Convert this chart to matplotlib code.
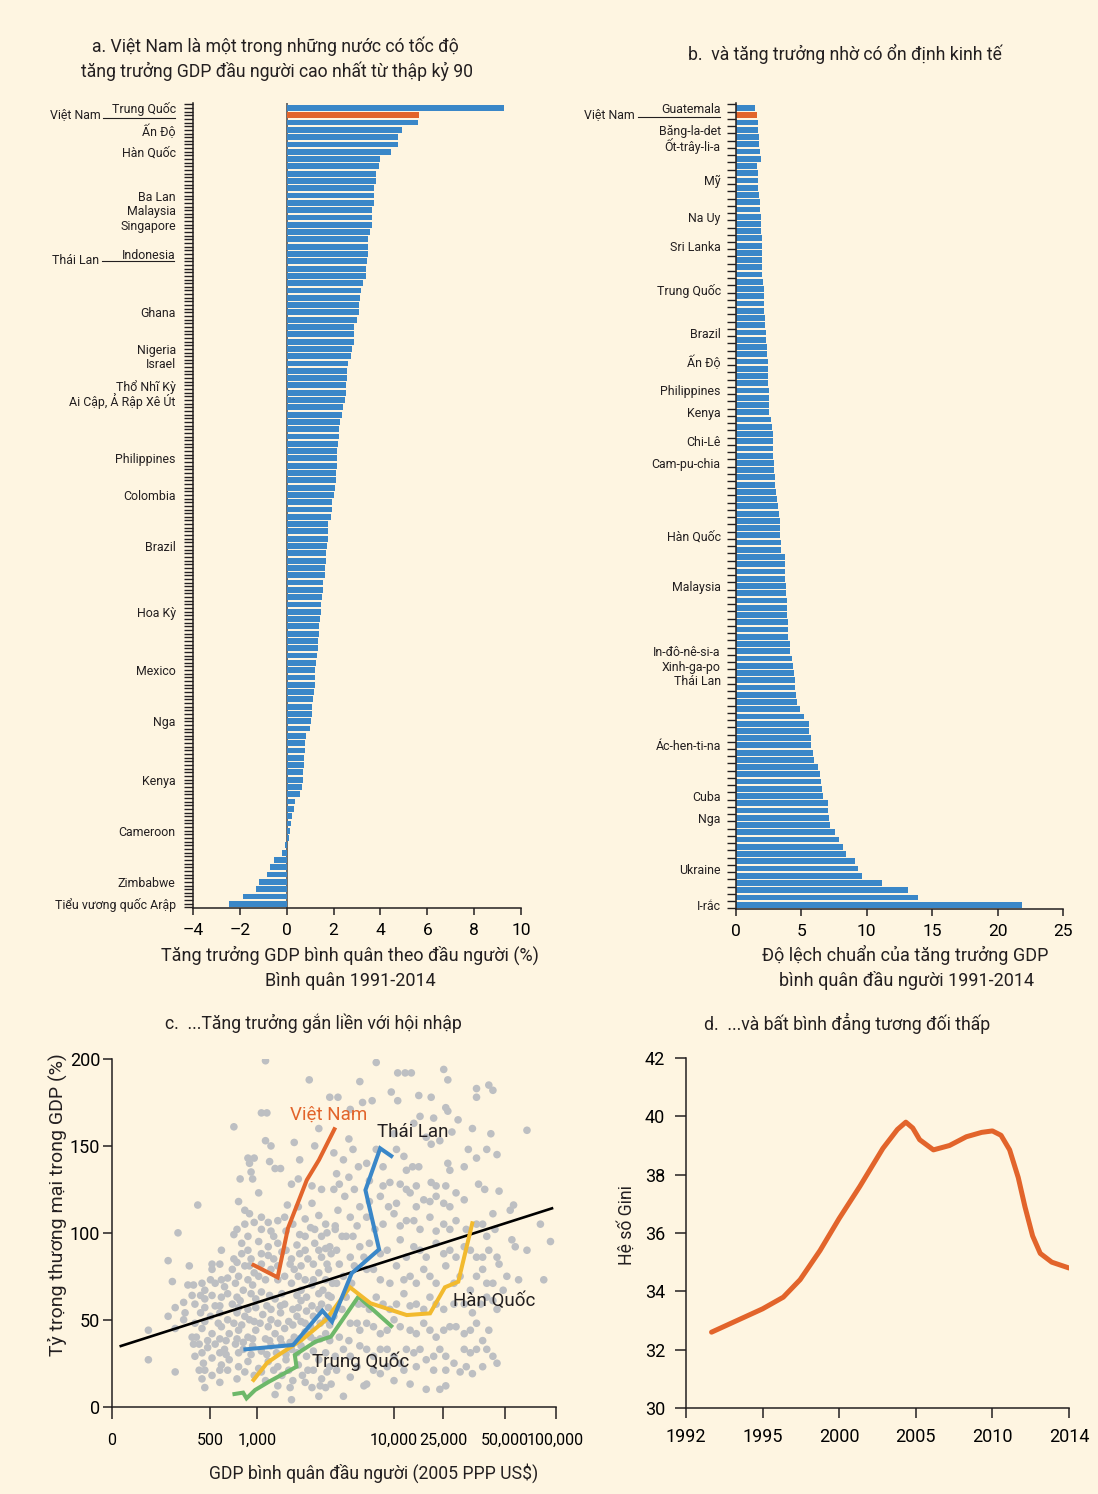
import numpy as np
import matplotlib
matplotlib.use('Agg')
import matplotlib.pyplot as plt
from matplotlib.lines import Line2D

plt.rcParams['font.family'] = ['Roboto', 'DejaVu Sans']

# ---------------- DATA ----------------
# Panel a: GDP per capita growth 1991-2014 (%), sorted
a_vals = [9.27, 5.63, 5.59, 4.94, 4.77, 4.73, 4.43, 4.00, 3.96, 3.83, 3.83, 3.74, 3.74, 3.74,
          3.66, 3.66, 3.66, 3.57, 3.49, 3.49, 3.49, 3.44, 3.40, 3.40, 3.27, 3.19, 3.14, 3.10,
          3.10, 3.01, 2.89, 2.89, 2.89, 2.80, 2.76, 2.63, 2.59, 2.59, 2.54, 2.54, 2.50, 2.41,
          2.37, 2.29, 2.24, 2.24, 2.20, 2.16, 2.16, 2.16, 2.11, 2.11, 2.07, 2.03, 1.94, 1.94,
          1.90, 1.77, 1.77, 1.77, 1.73, 1.69, 1.69, 1.64, 1.64, 1.56, 1.56, 1.51, 1.47, 1.47,
          1.43, 1.39, 1.39, 1.34, 1.34, 1.30, 1.26, 1.21, 1.21, 1.21, 1.17, 1.13, 1.09, 1.09,
          1.04, 1.00, 0.83, 0.79, 0.79, 0.74, 0.74, 0.70, 0.70, 0.66, 0.57, 0.36, 0.31, 0.23,
          0.19, 0.14, 0.10, -0.07, -0.20, -0.54, -0.71, -0.84, -1.19, -1.31, -1.87, -2.47]
a_highlight = 1
a_labels = {0: 'Trung Quốc', 3: 'Ấn Độ', 6: 'Hàn Quốc', 12: 'Ba Lan', 14: 'Malaysia',
            16: 'Singapore', 20: 'Indonesia', 28: 'Ghana', 33: 'Nigeria', 35: 'Israel',
            38: 'Thổ Nhĩ Kỳ', 40: 'Ai Cập, Ả Rập Xê Út', 48: 'Philippines', 53: 'Colombia',
            60: 'Brazil', 69: 'Hoa Kỳ', 77: 'Mexico', 84: 'Nga', 92: 'Kenya', 99: 'Cameroon',
            106: 'Zimbabwe', 109: 'Tiểu vương quốc Arập'}
a_xticks = [-4, -2, 0, 2, 4, 6, 8, 10]

# Panel b: standard deviation of GDP per capita growth 1991-2014, sorted
b_vals = [1.45, 1.61, 1.68, 1.68, 1.76, 1.76, 1.83, 1.91, 1.61, 1.68, 1.68, 1.68, 1.76, 1.83,
          1.83, 1.91, 1.91, 1.91, 1.99, 1.99, 1.99, 1.99, 1.99, 1.99, 2.06, 2.14, 2.14, 2.14,
          2.14, 2.22, 2.22, 2.29, 2.29, 2.37, 2.37, 2.45, 2.45, 2.45, 2.45, 2.52, 2.52, 2.52,
          2.52, 2.68, 2.75, 2.83, 2.83, 2.83, 2.83, 2.91, 2.91, 2.98, 2.98, 3.06, 3.13, 3.21,
          3.29, 3.36, 3.36, 3.36, 3.44, 3.44, 3.75, 3.75, 3.75, 3.75, 3.82, 3.82, 3.90, 3.90,
          3.90, 3.98, 3.98, 3.98, 4.13, 4.13, 4.28, 4.36, 4.43, 4.51, 4.51, 4.59, 4.66, 4.89,
          5.20, 5.58, 5.58, 5.73, 5.73, 5.89, 5.96, 6.27, 6.42, 6.50, 6.57, 6.65, 7.03, 7.03,
          7.11, 7.19, 7.57, 7.87, 8.18, 8.41, 9.10, 9.33, 9.63, 11.16, 13.15, 13.91, 21.87]
b_highlight = 1
b_labels = {0: 'Guatemala', 3: 'Băng-la-det', 5: 'Ốt-trây-li-a', 10: 'Mỹ', 15: 'Na Uy',
            19: 'Sri Lanka', 25: 'Trung Quốc', 31: 'Brazil', 35: 'Ấn Độ', 39: 'Philippines',
            42: 'Kenya', 46: 'Chi-Lê', 49: 'Cam-pu-chia', 59: 'Hàn Quốc', 66: 'Malaysia',
            75: 'In-đô-nê-si-a', 77: 'Xinh-ga-po', 79: 'Thái Lan', 88: 'Ác-hen-ti-na',
            95: 'Cuba', 98: 'Nga', 105: 'Ukraine', 110: 'I-rắc'}
b_xticks = [0, 5, 10, 15, 20, 25]

# Panel c: trade share vs GDP per capita, points as (log10 GDP, trade % of GDP)
scatter_pts = [
    (3.06, 199), (3.38, 188), (3.03, 169), (3.07, 169), (2.85, 161), (3.45, 160), (3.27, 152),
    (3.06, 153), (3.10, 150), (3.42, 150), (2.94, 143), (2.98, 143), (2.95, 140), (3.31, 142),
    (3.09, 141), (3.13, 137), (3.17, 137), (2.96, 135), (2.89, 131), (2.97, 131), (3.30, 131),
    (3.25, 128), (3.01, 123), (3.40, 127), (3.47, 125), (2.61, 116), (2.88, 118), (3.22, 116),
    (3.40, 117), (2.92, 113), (2.95, 111), (3.30, 115), (3.45, 110), (3.35, 108), (3.50, 105),
    (2.98, 106), (3.08, 106), (3.15, 107), (2.92, 105), (2.47, 100), (2.85, 99), (2.87, 102),
    (3.03, 102), (3.10, 101), (3.31, 99), (3.35, 98), (3.42, 102), (3.51, 100), (2.40, 84),
    (2.71, 82), (2.43, 72), (2.54, 70), (2.58, 70), (2.51, 60), (2.45, 57), (2.40, 52),
    (2.51, 50), (2.45, 45), (2.26, 44), (2.26, 27), (2.45, 20), (2.64, 16), (2.76, 14),
    (2.66, 11), (3.15, 12), (3.24, 11), (3.35, 14), (3.40, 11), (3.46, 12), (3.50, 11),
    (3.01, 95), (3.08, 92), (3.15, 94), (3.21, 90), (3.29, 93), (3.35, 90), (3.42, 94),
    (3.50, 91), (3.54, 88), (2.90, 88), (2.96, 85), (2.85, 85), (3.03, 88), (3.12, 85),
    (3.25, 85), (3.37, 85), (3.47, 86),
    (2.71, 79), (2.77, 73), (2.84, 79), (2.88, 75), (2.92, 81), (2.98, 77), (3.06, 73),
    (3.10, 79), (3.20, 75), (3.27, 79), (3.35, 73), (3.45, 77), (3.52, 79), (2.66, 67),
    (2.73, 71), (2.79, 69), (2.86, 71), (2.91, 67), (2.97, 70), (3.03, 66), (3.25, 71),
    (3.32, 67), (3.40, 70), (3.48, 67), (3.55, 71),
    (2.59, 59), (2.66, 62), (2.73, 58), (2.77, 63), (2.84, 59), (2.89, 61), (2.94, 56),
    (2.99, 62), (3.07, 58), (3.13, 62), (3.20, 59), (3.26, 56), (3.32, 61), (3.40, 58),
    (3.47, 59), (3.54, 63), (2.63, 54), (2.70, 52), (2.76, 54), (2.81, 50), (2.87, 54),
    (2.92, 52), (2.98, 49), (3.04, 53), (3.10, 50), (3.17, 54), (3.23, 49), (3.29, 52),
    (3.35, 48), (3.41, 52), (3.50, 50),
    (2.57, 40), (2.64, 45), (2.71, 42), (2.77, 46), (2.82, 42), (2.88, 44), (2.94, 40),
    (2.99, 44), (3.06, 39), (3.13, 42), (3.20, 45), (3.27, 40), (3.35, 43), (3.42, 38),
    (3.50, 42), (2.62, 36), (2.68, 34), (2.73, 36), (2.79, 33), (2.86, 36), (2.91, 33),
    (2.97, 35), (3.03, 32), (3.10, 35), (3.18, 36), (3.25, 33), (3.32, 35), (3.41, 32),
    (2.59, 29), (2.65, 25), (2.71, 28), (2.77, 24), (2.82, 27), (2.88, 23), (2.94, 26),
    (3.01, 22), (3.08, 26), (3.15, 23), (3.21, 27), (3.30, 24), (3.37, 21), (3.45, 27),
    (3.53, 23), (2.62, 21), (2.71, 18), (2.81, 21), (2.87, 16), (2.98, 18), (3.06, 15),
    (3.18, 18), (3.26, 15), (3.47, 16), (3.54, 13), (3.13, 7), (3.25, 4), (3.45, 6),
    (2.76, 82), (2.87, 83), (2.95, 81), (3.03, 82), (3.15, 81), (3.24, 82), (3.32, 81),
    (3.41, 82), (3.51, 82), (2.70, 73), (2.81, 74), (2.94, 73), (3.01, 75), (3.15, 73),
    (3.30, 75), (3.41, 73), (3.50, 73), (2.63, 64), (2.71, 64), (2.81, 65), (2.87, 63),
    (2.96, 65), (3.09, 64), (3.18, 65), (3.29, 64), (3.36, 63), (3.45, 65), (3.52, 64),
    (2.66, 57), (2.76, 58), (2.88, 57), (2.99, 57), (3.10, 56), (3.17, 58), (3.30, 57),
    (3.36, 55), (3.45, 56), (3.52, 57), (2.59, 48), (2.66, 49), (2.75, 48), (2.85, 48),
    (2.90, 47), (2.95, 50), (3.02, 48), (3.08, 46), (3.15, 48), (3.26, 47), (3.32, 49),
    (3.39, 46), (3.46, 48), (3.53, 47), (2.60, 40), (2.68, 38), (2.76, 39), (2.80, 38),
    (2.87, 39), (2.91, 37), (2.97, 39), (3.09, 38), (3.17, 39), (3.24, 37), (3.31, 39),
    (3.39, 40), (3.46, 39), (3.53, 38), (2.64, 31), (2.76, 31), (2.80, 30), (2.88, 31),
    (2.96, 30), (3.07, 30), (3.14, 31), (3.21, 30), (3.29, 31), (3.36, 29), (3.50, 31),
    (2.66, 21), (2.76, 21), (2.92, 20), (3.03, 20), (3.12, 21), (3.23, 21), (3.33, 18),
    (3.41, 21), (3.51, 20), (2.77, 90), (2.94, 90), (3.08, 87), (3.18, 89), (3.31, 88),
    (3.45, 90), (3.53, 92), (2.55, 81), (2.64, 71), (2.57, 64), (2.52, 54), (2.58, 36),
    (3.20, 109), (3.26, 105), (3.39, 103), (3.47, 98), (3.57, 104), (3.12, 98), (3.21, 101),
    (3.03, 109), (2.94, 98), (2.90, 94),
    (3.87, 198), (4.03, 192), (4.09, 192), (4.14, 192), (4.40, 194), (4.42, 188), (3.75, 187),
    (4.56, 183), (4.62, 185), (4.64, 182), (3.98, 181), (4.56, 178), (4.20, 179), (4.30, 178),
    (4.03, 176), (3.84, 176), (3.77, 175), (4.41, 172), (4.42, 170), (3.53, 178), (3.59, 178),
    (3.68, 171), (4.32, 166), (4.47, 165), (4.54, 160), (4.63, 157), (4.83, 159), (3.67, 154),
    (4.26, 155), (4.30, 151), (4.37, 153), (4.44, 158), (4.52, 148), (4.56, 143), (4.61, 148),
    (4.66, 145), (4.08, 144), (4.15, 138), (4.20, 138), (4.42, 140), (4.43, 136), (4.50, 138),
    (4.30, 129), (4.34, 127), (4.18, 127), (4.10, 125), (3.97, 129), (3.92, 127), (4.57, 128),
    (4.60, 125), (4.67, 124), (4.75, 116), (4.64, 111), (4.73, 113), (4.91, 105), (4.97, 95),
    (4.83, 90), (4.74, 96), (4.76, 92), (4.93, 73), (4.78, 73), (4.71, 75), (4.66, 86),
    (3.56, 146), (3.63, 142), (3.70, 148), (3.58, 134), (3.67, 132), (3.74, 138), (3.56, 125),
    (3.64, 121), (3.71, 125), (3.59, 113), (3.68, 109), (3.75, 115), (3.57, 102), (3.65, 98),
    (3.73, 104), (3.58, 90), (3.68, 86), (3.75, 92), (3.63, 75), (3.58, 71), (3.65, 63),
    (3.56, 52), (3.68, 48), (3.60, 40),
    (3.90, 121), (4.02, 117), (4.13, 123), (4.24, 119), (4.34, 121), (4.43, 115), (4.46, 123),
    (3.80, 109), (3.92, 105), (4.00, 111), (4.10, 107), (4.21, 102), (4.29, 109), (4.40, 105),
    (4.46, 107), (4.51, 102), (4.56, 105), (4.61, 98),
    (3.82, 94), (3.95, 90), (4.05, 96), (4.16, 92), (4.26, 86), (4.34, 94), (4.43, 90),
    (4.50, 92), (4.56, 86), (4.62, 90), (4.67, 82),
    (3.80, 79), (3.90, 73), (4.02, 81), (4.13, 75), (4.24, 79), (4.34, 71), (4.41, 81),
    (4.48, 75), (4.53, 67), (4.59, 79), (4.64, 71),
    (3.78, 59), (3.87, 63), (3.97, 56), (4.08, 65), (4.18, 59), (4.29, 63), (4.40, 56),
    (4.45, 59), (4.54, 54), (4.61, 63), (4.66, 56), (4.69, 67),
    (3.80, 48), (3.90, 42), (4.00, 50), (4.13, 44), (4.24, 48), (4.34, 40), (4.43, 46),
    (4.50, 42), (4.56, 48), (4.59, 38),
    (3.63, 33), (3.75, 35), (3.85, 29), (3.95, 33), (4.05, 25), (4.16, 31), (4.26, 27),
    (4.37, 33), (4.45, 25), (4.53, 31), (4.64, 29), (4.66, 25),
    (3.68, 17), (3.80, 13), (3.90, 19), (4.00, 15), (4.13, 13), (4.26, 10), (4.37, 10),
    (4.41, 12), (4.48, 20), (4.54, 19), (3.63, 6), (3.78, 12),
    (3.60, 128), (3.82, 130), (4.05, 128), (4.41, 127), (3.82, 118), (3.96, 115), (4.18, 115),
    (4.29, 118), (4.40, 117), (4.50, 119), (3.86, 102), (4.05, 104), (4.16, 107), (4.34, 101),
    (4.43, 102), (4.59, 105), (4.65, 102), (3.78, 86), (3.90, 88), (4.10, 86), (4.21, 90),
    (4.40, 88), (4.46, 86), (4.53, 90), (4.59, 86), (3.85, 79), (3.97, 71), (4.08, 73),
    (4.18, 71), (4.29, 75), (4.45, 71), (4.56, 75), (4.61, 71), (3.82, 56), (3.92, 59),
    (4.02, 59), (4.13, 58), (4.24, 56), (4.34, 59), (4.50, 59), (4.58, 59), (4.64, 61),
    (3.75, 44), (3.85, 46), (3.95, 44), (4.05, 46), (4.18, 42), (4.29, 44), (4.40, 44),
    (4.46, 46), (4.53, 44), (4.62, 44), (3.68, 29), (3.80, 33), (3.90, 33), (4.00, 29),
    (4.10, 33), (4.21, 33), (4.32, 29), (4.41, 29), (4.50, 33), (4.56, 33), (4.61, 33),
    (3.58, 21), (3.73, 23), (3.85, 21), (3.95, 23), (4.08, 21), (4.18, 23), (4.32, 21),
    (4.41, 21), (4.51, 23), (4.59, 23), (3.62, 98), (3.70, 98), (3.60, 82), (3.71, 81),
    (3.69, 71), (3.74, 59), (3.62, 56), (3.73, 48), (3.67, 38), (3.57, 29),
    (3.87, 148), (3.80, 140), (3.92, 138), (4.02, 148), (4.10, 136), (4.00, 157), (4.16, 163),
    (4.21, 167),
]
fit_gdp = [116, 95300]
fit_trade = [34.9, 114.1]
vn_gdp = [946, 1408, 1675, 2302, 2823, 3664]
vn_trade = [81.5, 74.4, 102.6, 130.4, 141.9, 159.6]
th_gdp = [839, 1828, 2992, 3521, 4900, 7780, 6180, 7925, 9550]
th_trade = [33.0, 35.5, 55.2, 48.9, 76.7, 90.5, 124.6, 148.6, 144.2]
kr_gdp = [946, 1182, 1490, 2113, 3170, 4757, 6724, 12670, 19540, 25470, 29580, 34620]
kr_trade = [15.4, 25.3, 30.7, 38.4, 49.9, 68.7, 59.5, 52.7, 53.7, 68.7, 71.9, 105.5]
cn_gdp = [714, 811, 853, 968, 1218, 1935, 1881, 2663, 3454, 5490, 9550]
cn_trade = [7.3, 8.1, 4.8, 9.6, 14.4, 23.0, 29.7, 37.4, 40.3, 63.3, 46.4]
c_label_pos = {'Việt Nam': (1734, 167.8), 'Thái Lan': (7460, 158.2),
               'Hàn Quốc': (27990, 61.0), 'Trung Quốc': (2500, 25.9)}
c_xtick_vals = [100, 500, 1000, 10000, 25000, 50000, 100000]
c_xtick_labels = ['0', '500', '1,000', '10,000', '25,000', '50,000', '100,000']
c_yticks = [0, 50, 100, 150, 200]

# Panel d: Gini coefficient
gini_year = [1993.0, 1995.0, 1996.35, 1997.45, 1998.75, 2000.0, 2001.35, 2002.85, 2003.8,
             2004.35, 2004.8, 2005.25, 2006.15, 2007.2, 2008.3, 2009.3, 2010.0, 2010.45,
             2010.9, 2011.35, 2011.7, 2012.1, 2012.5, 2013.1, 2014.0]
gini_val = [32.6, 33.4, 33.8, 34.4, 35.4, 36.5, 37.6, 38.9, 39.55, 39.8, 39.6, 39.2, 38.85,
            39.0, 39.3, 39.45, 39.5, 39.35, 38.85, 37.9, 36.9, 35.9, 35.3, 35.0, 34.8]
d_xticks = [1992, 1995, 2000, 2005, 2010, 2014]
d_yticks = [30, 32, 34, 36, 38, 40, 42]

# ---------------- STYLE ----------------
CREAM = '#FEF5E1'
BLUE = '#3A87C8'
ORANGE = '#E2642B'
YELLOW = '#F2BA2E'
GREEN = '#6DB86A'
GRAY = '#BDBFC2'
DARK = '#231F20'
FS_TITLE = 12.7
FS_LAB = 8.9

W, H = 1098, 1494
fig = plt.figure(figsize=(W / 100, H / 100), dpi=100, facecolor=CREAM)


def fx(px):
    return px / W


def fy(py):
    return 1 - py / H


def axes_px(l, t, r, b):
    return fig.add_axes([fx(l), fy(b), (r - l) / W, (b - t) / H])


def style_axes(ax):
    ax.set_facecolor('none')
    for s in ['top', 'right']:
        ax.spines[s].set_visible(False)
    for s in ['left', 'bottom']:
        ax.spines[s].set_linewidth(1.1)
        ax.spines[s].set_color(DARK)


def hline_px(x0, x1, y):
    fig.add_artist(Line2D([fx(x0), fx(x1)], [fy(y), fy(y)], color=DARK, lw=0.8))


# ---------------- Panel a ----------------
axA = axes_px(193, 103, 521, 908)
style_axes(axA)
ya = np.arange(len(a_vals))
colA = [ORANGE if i == a_highlight else BLUE for i in ya]
axA.barh(ya, a_vals, height=0.8, color=colA, zorder=2)
axA.axvline(0, color='#555555', lw=1.2, zorder=1)
axA.set_xlim(-4, 10)
axA.set_ylim(len(a_vals) - 0.42, -0.68)
axA.set_yticks(ya)
axA.set_yticklabels([a_labels.get(i, '') for i in ya], fontsize=FS_LAB, color=DARK)
axA.set_yticks(np.arange(-0.5, len(a_vals), 1.0), minor=True)
axA.tick_params(axis='y', which='both', length=6.5, width=1.0, color=DARK, pad=6)
axA.set_xticks(a_xticks)
axA.set_xticklabels([f'{v}' if v >= 0 else f'\u2013{abs(v)}' for v in a_xticks])
axA.tick_params(axis='x', length=5, width=1.1, color=DARK, labelsize=12.5, pad=5.5)

fig.text(fx(101), fy(115), 'Việt Nam', ha='right', va='center', fontsize=FS_LAB, color=DARK)
hline_px(103, 175, 117.7)
fig.text(fx(99), fy(260), 'Thái Lan', ha='right', va='center', fontsize=FS_LAB, color=DARK)
hline_px(102, 174, 260.7)

fig.text(fx(275), fy(46), 'a. Việt Nam là một trong những nước có tốc độ', ha='center',
         va='center', fontsize=FS_TITLE, color=DARK)
fig.text(fx(277), fy(71), 'tăng trưởng GDP đầu người cao nhất từ thập kỷ 90', ha='center',
         va='center', fontsize=FS_TITLE, color=DARK)
fig.text(fx(350), fy(955), 'Tăng trưởng GDP bình quân theo đầu người (%)', ha='center',
         va='center', fontsize=13, color=DARK)
fig.text(fx(350), fy(981), 'Bình quân 1991-2014', ha='center', va='center', fontsize=13,
         color=DARK)

# ---------------- Panel b ----------------
axB = axes_px(736, 103, 1063, 909)
style_axes(axB)
yb = np.arange(len(b_vals))
colB = [ORANGE if i == b_highlight else BLUE for i in yb]
axB.barh(yb, b_vals, height=0.8, color=colB, zorder=2)
axB.set_xlim(0, 25)
axB.set_ylim(len(b_vals) - 0.41, -0.69)
axB.set_yticks(yb)
axB.set_yticklabels([b_labels.get(i, '') for i in yb], fontsize=FS_LAB, color=DARK)
axB.tick_params(axis='y', which='major', length=0, pad=11)
axB.set_yticks(np.arange(-0.5, len(b_vals), 1.0), minor=True)
axB.tick_params(axis='y', which='minor', length=6.5, width=1.0, color=DARK)
axB.set_xticks(b_xticks)
axB.tick_params(axis='x', length=5, width=1.1, color=DARK, labelsize=12.5, pad=5.5)

fig.text(fx(635), fy(115), 'Việt Nam', ha='right', va='center', fontsize=FS_LAB, color=DARK)
hline_px(638, 720, 117.3)

fig.text(fx(845), fy(54), 'b.  và tăng trưởng nhờ có ổn định kinh tế', ha='center',
         va='center', fontsize=FS_TITLE, color=DARK)
fig.text(fx(905), fy(955), 'Độ lệch chuẩn của tăng trưởng GDP', ha='center', va='center',
         fontsize=13, color=DARK)
fig.text(fx(907), fy(981), 'bình quân đầu người 1991-2014', ha='center', va='center',
         fontsize=13, color=DARK)

# ---------------- Panel c ----------------
axC = axes_px(111.7, 1059, 555.5, 1406.7)
style_axes(axC)
c_tick_logs = np.log10(c_xtick_vals)
c_tick_frac = np.array([0.0, 0.2222, 0.3281, 0.6361, 0.7472, 0.8862, 1.0])


def c_fwd(x):
    x = np.asarray(x, dtype=float)
    return np.interp(np.log10(np.maximum(x, 1e-6)), c_tick_logs, c_tick_frac)


def c_inv(p):
    return 10 ** np.interp(p, c_tick_frac, c_tick_logs)


axC.set_xscale('function', functions=(c_fwd, c_inv))
pts = np.array(scatter_pts)
axC.scatter(10 ** pts[:, 0], pts[:, 1], s=30, color=GRAY, edgecolors='none', zorder=1)
axC.plot(fit_gdp, fit_trade, color='black', lw=1.9, zorder=2)
lw_c = 2.9
axC.plot(cn_gdp, cn_trade, color=GREEN, lw=lw_c, zorder=3, solid_joinstyle='miter')
axC.plot(kr_gdp, kr_trade, color=YELLOW, lw=lw_c, zorder=3, solid_joinstyle='miter')
axC.plot(th_gdp, th_trade, color=BLUE, lw=lw_c, zorder=4, solid_joinstyle='miter')
axC.plot(vn_gdp, vn_trade, color=ORANGE, lw=lw_c, zorder=4, solid_joinstyle='miter')
for name, (gx, gy) in c_label_pos.items():
    axC.text(gx, gy, name, ha='left', va='center', fontsize=13.5,
             color=ORANGE if name == 'Việt Nam' else DARK, zorder=5)
axC.set_xlim(100, 100000)
axC.set_ylim(0, 200)
axC.set_xticks(c_xtick_vals)
axC.set_xticklabels(c_xtick_labels)
axC.xaxis.set_minor_locator(matplotlib.ticker.NullLocator())
axC.set_yticks(c_yticks)
axC.tick_params(axis='x', length=8.6, width=1.1, color=DARK, labelsize=11.5, pad=10.5)
axC.tick_params(axis='y', length=6.2, width=1.1, color=DARK, labelsize=13, pad=2)
fig.text(fx(313), fy(1023), 'c.  ...Tăng trưởng gắn liền với hội nhập', ha='center',
         va='center', fontsize=FS_TITLE, color=DARK)
fig.text(fx(374), fy(1473), 'GDP bình quân đầu người (2005 PPP US$)', ha='center',
         va='center', fontsize=12.7, color=DARK)
fig.text(fx(57), fy(1205), 'Tỷ trọng thương mại trong GDP (%)', ha='center', va='center',
         rotation=90, fontsize=14, color=DARK)

# ---------------- Panel d ----------------
axD = axes_px(686, 1058, 1069, 1408)
style_axes(axD)
d_pos = np.arange(len(d_xticks), dtype=float)


def d_fwd(x):
    return np.interp(np.asarray(x, dtype=float), d_xticks, d_pos)


def d_inv(p):
    return np.interp(np.asarray(p, dtype=float), d_pos, d_xticks)


axD.set_xscale('function', functions=(d_fwd, d_inv))
axD.plot(gini_year, gini_val, color=ORANGE, lw=3.6, solid_capstyle='round',
         solid_joinstyle='round')
axD.set_xlim(1992, 2014)
axD.set_ylim(30, 42)
axD.set_xticks(d_xticks)
axD.set_xticklabels([str(v) for v in d_xticks])
axD.xaxis.set_minor_locator(matplotlib.ticker.NullLocator())
axD.set_yticks(d_yticks)
axD.tick_params(axis='x', length=7, width=1.1, color=DARK, labelsize=13, pad=7.5)
axD.tick_params(axis='y', length=8, width=1.1, color=DARK, labelsize=13, pad=7)
fig.text(fx(847), fy(1023), 'd.  ...và bất bình đẳng tương đối thấp', ha='center',
         va='center', fontsize=FS_TITLE, color=DARK)
fig.text(fx(627), fy(1225), 'Hệ số Gini', ha='center', va='center', rotation=90,
         fontsize=12.7, color=DARK)

fig.savefig('out.png', dpi=100, facecolor=CREAM)
